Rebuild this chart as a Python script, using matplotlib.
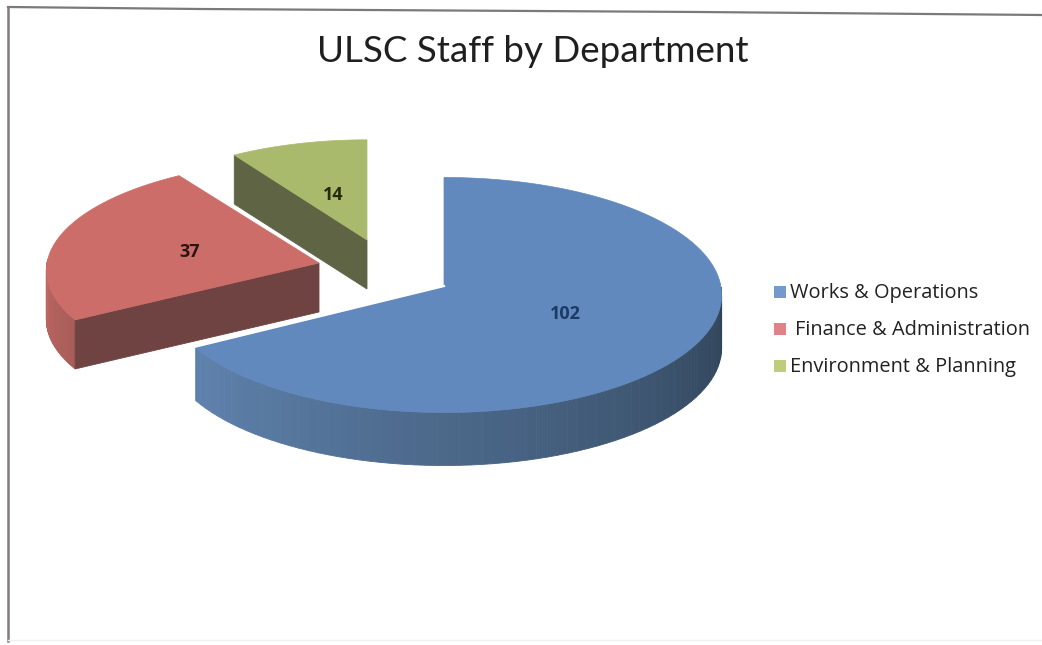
import numpy as np
import matplotlib
matplotlib.use("Agg")
import matplotlib.pyplot as plt
from matplotlib.colors import to_rgb

# data
departments = ["Works & Operations", "Finance & Administration", "Environment & Planning"]
staff = [102, 37, 14]

# look of each slice
top_colors = ["#6189bd", "#cc6d69", "#a9ba6c"]
legend_colors = ["#7399cd", "#e08389", "#bfcc7c"]
apex_xy = [(444, 287), (319, 263), (367, 240)]
radius_xy = [(277, 117), (272, 110), (258, 107)]
depths = [53, 49, 49]
label_xy = [(565, 314), (190, 252), (333, 195)]
label_colors = ["#1c3a66", "#2b1512", "#26290f"]
legend_y = [293, 330, 367]
legend_x = [790, 795, 790]

TILT = 0.068


def project(theta, apex, radius):
    # theta runs clockwise from 12 o'clock, back of the disc is drawn smaller
    w = 1 + TILT * np.cos(theta)
    x = apex[0] + radius[0] * np.sin(theta) / w
    y = apex[1] - radius[1] * np.cos(theta) / w
    return x, y


def mix(c1, c2, t):
    a, b = np.array(to_rgb(c1)), np.array(to_rgb(c2))
    return tuple(a + (b - a) * t)


def draw_rim(ax, t0, t1, apex, radius, depth, c0, c1):
    edges = np.linspace(t0, t1, 70)
    for i in range(len(edges) - 1):
        tt = edges[i:i + 2]
        x, y = project(tt, apex, radius)
        col = mix(c0, c1, i / (len(edges) - 2))
        ax.fill([x[0], x[1], x[1], x[0]], [y[0], y[1], y[1] + depth, y[0] + depth],
                color=col, lw=0.6, zorder=2)


def draw_face(ax, theta, apex, radius, depth, col, z=2):
    x, y = project(np.array([theta]), apex, radius)
    ax.fill([apex[0], x[0], x[0], apex[0]], [apex[1], y[0], y[0] + depth, apex[1] + depth],
            color=col, lw=0.6, zorder=z)


fig = plt.figure(figsize=(10.42, 6.45), dpi=100)
ax = fig.add_axes([0, 0, 1, 1])
ax.set_xlim(0, 1042)
ax.set_ylim(645, 0)
ax.axis("off")

bounds = np.concatenate([[0], np.cumsum(staff)]) / sum(staff) * 2 * np.pi

# sides and top of each slice, far one first
# green
draw_face(ax, bounds[2], apex_xy[2], radius_xy[2], depths[2], "#5f6445")
# red
draw_rim(ax, bounds[1], np.radians(272), apex_xy[1], radius_xy[1], depths[1], "#a85d59", "#c26864")
draw_face(ax, bounds[1], apex_xy[1], radius_xy[1], depths[1], "#6f4341")
# blue
draw_rim(ax, np.radians(90), bounds[1], apex_xy[0], radius_xy[0], depths[0], "#2f4256", "#5f82ad")

for i in [2, 1, 0]:
    tt = np.linspace(bounds[i], bounds[i + 1], 120)
    x, y = project(tt, apex_xy[i], radius_xy[i])
    ax.fill(np.r_[apex_xy[i][0], x], np.r_[apex_xy[i][1], y], color=top_colors[i], lw=0.5, zorder=3 + (2 - i))
    ax.text(label_xy[i][0], label_xy[i][1], str(staff[i]), color=label_colors[i], fontsize=13,
            fontweight="bold", family="Open Sans", ha="center", va="center", zorder=8)

# white edge where the blue slice lifts off the red one
ex, ey = project(np.array([bounds[1]]), apex_xy[0], radius_xy[0])
ax.plot([ex[0], apex_xy[0][0]], [ey[0] - 1, apex_xy[0][1] - 1], color="white", lw=1.6, zorder=7)

# title and legend
ax.text(533, 52, "ULSC Staff by Department", fontsize=26.5, family="Lato", color="#1f1f1f",
        ha="center", va="center")
for name, col, tx, ty in zip(departments, legend_colors, legend_x, legend_y):
    ax.scatter([780], [ty - 1], marker="s", s=80, color=col, linewidths=0)
    ax.text(tx, ty, name, fontsize=14.4, family="Open Sans", color="#222222", ha="left", va="center")

# scanned page frame
ax.plot([8, 200, 700, 1042], [7, 9, 12, 15], color="#7a7a7a", lw=1.6)
ax.plot([8, 8], [7, 641], color="#857b7b", lw=1.8)
ax.plot([8, 1042], [640, 640], color="#f0f0f0", lw=1.0)

fig.savefig("out.png", dpi=100)
